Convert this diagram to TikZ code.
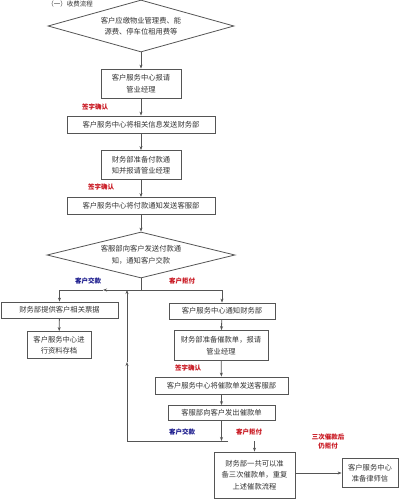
\documentclass[tikz,border=0pt]{standalone}
\usepackage{fontspec}
\setmainfont{Noto Sans CJK SC}
\usetikzlibrary{shapes.geometric,arrows.meta}

\definecolor{signred}{RGB}{200,20,30}
\definecolor{paynavy}{RGB}{25,25,140}
\definecolor{edgegray}{RGB}{85,85,85}

\begin{document}
\begin{tikzpicture}[x=1pt,y=-1pt,
    box/.style={draw=edgegray, line width=0.8pt, fill=white, align=center, inner sep=0pt,
                text=black!80, font=\fontsize{7.3}{11.5}\selectfont},
    choice/.style={box, diamond, aspect=3.6},
    note/.style={font=\bfseries\fontsize{6.5}{9}\selectfont, align=center, inner sep=0pt},
    flow/.style={draw=edgegray, line width=0.8pt},
    arr/.style={flow, -{Stealth[length=4pt,width=3pt]}}]
    \useasboundingbox (0,0) rectangle (403,500);

    % heading
    \node[font=\fontsize{6.5}{8}\selectfont, text=black!80] (title) at (70,4.5) {（一）收费流程};

    % main column
    \node[choice, minimum width=186pt, minimum height=52pt] (fee) at (141,26)
        {客户应缴物业管理费、能\\源费、停车位租用费等};
    \node[box, minimum width=80pt, minimum height=29pt] (ask) at (141,83.5)
        {客户服务中心报请\\管业经理};
    \node[box, minimum width=148pt, minimum height=17pt] (info) at (141,124.5)
        {客户服务中心将相关信息发送财务部};
    \node[box, minimum width=80pt, minimum height=29pt] (prep) at (141,165)
        {财务部准备付款通\\知并报请管业经理};
    \node[box, minimum width=148pt, minimum height=17pt] (send) at (141,206)
        {客户服务中心将付款通知发送客服部};
    \node[choice, minimum width=188pt, minimum height=46pt] (notify) at (141,255)
        {客服部向客户发送付款通\\知，通知客户交款};

    % paid branch
    \node[box, minimum width=117pt, minimum height=16pt] (bill) at (59.5,310)
        {财务部提供客户相关票据};
    \node[box, minimum width=64pt, minimum height=27pt] (file) at (59,345)
        {客户服务中心进\\行资料存档};

    % refused branch
    \node[box, minimum width=106pt, minimum height=16pt] (tellfin) at (222,311)
        {客户服务中心通知财务部};
    \node[box, minimum width=94pt, minimum height=30pt] (dun) at (221,345.5)
        {财务部准备催款单，报请\\管业经理};
    \node[box, minimum width=133pt, minimum height=17pt] (pass) at (221.5,385.5)
        {客户服务中心将催款单发送客服部};
    \node[box, minimum width=107pt, minimum height=15pt] (issue) at (221.5,413)
        {客服部向客户发出催款单};
    \node[box, minimum width=81pt, minimum height=46pt] (repeat) at (254.5,475)
        {财务部一共可以准\\备三次催款单，重复\\上述催款流程};
    \node[box, minimum width=56pt, minimum height=29pt] (lawyer) at (370,473)
        {客户服务中心\\准备律师信};

    % labels
    \node[note, text=signred] (sign1) at (95,107) {签字确认};
    \node[note, text=signred] (sign2) at (101,187) {签字确认};
    \node[note, text=signred] (sign3) at (188,368) {签字确认};
    \node[note, text=paynavy] (paid1) at (88,281) {客户交款};
    \node[note, text=signred] (deny1) at (182,281) {客户拒付};
    \node[note, text=paynavy] (paid2) at (182,432) {客户交款};
    \node[note, text=signred] (deny2) at (249,432) {客户拒付};
    \node[note, text=signred] (deny3) at (328,442) {三次催款后\\仍拒付};

    % junction points
    \coordinate (split) at (141,290);
    \coordinate (leftmid) at (103,290);
    \coordinate (backtop) at (127,290);
    \coordinate (backmid) at (127,362);
    \coordinate (backlow) at (127,441);
    \coordinate (backend) at (228,441);
    \coordinate (denyfrom) at (254.5,441);

    % connectors
    \draw[arr] (fee) -- (ask);
    \draw[arr] (ask) -- (info);
    \draw[arr] (info) -- (prep);
    \draw[arr] (prep) -- (send);
    \draw[arr] (send) -- (notify);
    \draw[flow] (notify.south) -- (split);
    \draw[arr] (split) -- (leftmid);
    \draw[arr] (leftmid) -| (bill.north);
    \draw[arr] (bill) -- (file);
    \draw[arr] (split) -| (tellfin.north);
    \draw[arr] (tellfin) -- (dun);
    \draw[arr] (dun) -- (pass);
    \draw[arr] (pass) -- (issue);
    \draw[arr] (issue.south) -- (issue.south |- backlow);
    \draw[flow] (backend) -- (backlow);
    \draw[arr] (backlow) -- (backmid);
    \draw[arr] (backmid) -- (backtop);
    \draw[arr] (denyfrom) -- (repeat.north);
    \draw[arr] (repeat.east |- lawyer.west) -- (lawyer.west);
\end{tikzpicture}
\end{document}
